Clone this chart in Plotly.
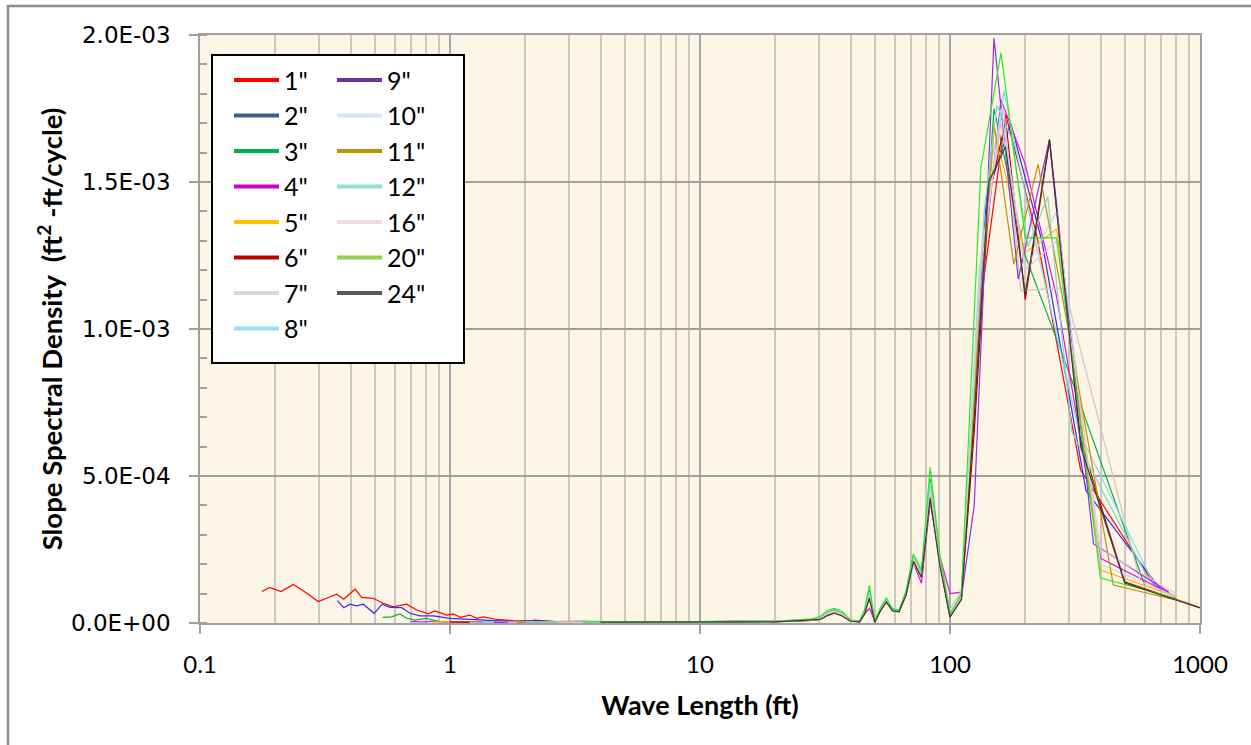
import plotly.graph_objects as go

# Slope spectral density vs. wave length, one line per sample spacing.
# Density values are stored in units of 1e-4 ft^2-ft/cycle.
UNIT = 1e-4

LABELS = ['1"', '2"', '3"', '4"', '5"', '6"', '7"', '8"',
          '9"', '10"', '11"', '12"', '16"', '20"', '24"']

LEGEND_COLORS = ["#FF0000", "#376092", "#00B050", "#CC00CC", "#FFC000",
                 "#C00000", "#D9D9D9", "#93E3F5", "#7030A0", "#DCE6F2",
                 "#BF9000", "#93DFD3", "#F2DCDB", "#92D050", "#595959"]
LINE_COLORS = ["#FF0000", "#3030F0", "#00B050", "#E010E0", "#FFB000",
               "#B00000", "#C8C8C8", "#80DDF0", "#9030E8", "#C5D5EC",
               "#C09000", "#7FD8CC", "#EEC4C4", "#22EE22", "#3C3C3C"]

# short wave lengths (ft), from each spacing's Nyquist limit up to ~3.5 ft
HEAD_WL = {
    '1"': [0.177, 0.19, 0.211, 0.236, 0.259, 0.297, 0.321, 0.352, 0.376, 0.417,
           0.443, 0.493, 0.541, 0.593, 0.671, 0.736, 0.819, 0.871, 0.97, 1.03,
           1.10, 1.2, 1.28, 1.36, 1.54, 1.79, 2.09, 2.19, 2.6, 3.2],
    '2"': [0.354, 0.376, 0.398, 0.423, 0.45, 0.497, 0.536, 0.575, 0.641, 0.692,
           0.759, 0.858, 1.0, 1.17, 1.4, 1.79, 2.2, 2.8, 3.4],
    '3"': [0.538, 0.584, 0.631, 0.671, 0.724, 0.806, 0.912, 1.1, 1.4, 1.8, 2.3, 3.0],
    '4"': [0.70, 0.78, 0.88, 1.0, 1.2, 1.5, 1.9, 2.5, 3.2],
    '5"': [0.85, 1.0, 1.3, 1.7, 2.2, 3.0],
    '6"': [1.0, 1.3, 1.7, 2.3, 3.0],
    '7"': [1.2, 1.5, 2.0, 2.6, 3.3],
    '8"': [1.35, 1.7, 2.2, 2.9],
    '9"': [1.5, 1.9, 2.5, 3.2],
    '10"': [1.7, 2.2, 2.8, 3.4],
    '11"': [1.85, 2.4, 3.1],
    '12"': [2.0, 2.6, 3.3],
    '16"': [2.7, 3.3],
    '20"': [3.4],
    '24"': [],
}
HEAD_S = {
    '1"': [1.07, 1.21, 1.07, 1.31, 1.10, 0.73, 0.84, 0.98, 0.81, 1.15,
           0.87, 0.84, 0.67, 0.55, 0.64, 0.44, 0.31, 0.41, 0.27, 0.31,
           0.19, 0.27, 0.16, 0.21, 0.12, 0.08, 0.07, 0.10, 0.05, 0.06],
    '2"': [0.76, 0.52, 0.64, 0.58, 0.64, 0.33, 0.64, 0.53, 0.52, 0.33,
           0.24, 0.24, 0.16, 0.13, 0.10, 0.05, 0.08, 0.04, 0.06],
    '3"': [0.19, 0.21, 0.31, 0.16, 0.10, 0.16, 0.04, 0.05, 0.03, 0.04, 0.03, 0.04],
    '4"': [0.05, 0.04, 0.06, 0.03, 0.05, 0.03, 0.04, 0.02, 0.04],
    '5"': [0.03, 0.05, 0.02, 0.04, 0.03, 0.02],
    '6"': [0.04, 0.02, 0.05, 0.03, 0.04],
    '7"': [0.02, 0.04, 0.03, 0.02, 0.03],
    '8"': [0.03, 0.02, 0.04, 0.03],
    '9"': [0.02, 0.04, 0.02, 0.03],
    '10"': [0.03, 0.02, 0.03, 0.02],
    '11"': [0.02, 0.03, 0.02],
    '12"': [0.03, 0.02, 0.03],
    '16"': [0.02, 0.03],
    '20"': [0.03],
    '24"': [],
}

# common wave lengths (ft) from 4 ft to 111 ft
BODY_WL = [4, 5, 7, 10, 13, 17, 20, 24, 28, 30.3, 32.3, 34.5, 37.0, 40.0, 43.5,
           45.5, 47.6, 50.0, 52.6, 55.6, 58.8, 62.5, 66.7, 71.4, 76.9, 83.3,
           90.9, 100.0, 111.1]
BODY_S = {
    '1"': [0.04, 0.03, 0.05, 0.03, 0.04, 0.06, 0.05, 0.07, 0.10, 0.15, 0.30, 0.40, 0.30, 0.08, 0.05,
           0.35, 0.95, 0.05, 0.45, 0.75, 0.45, 0.40, 1.00, 2.20, 1.60, 4.50, 2.20, 0.25, 0.90],
    '2"': [0.06, 0.04, 0.03, 0.05, 0.04, 0.05, 0.06, 0.08, 0.09, 0.14, 0.28, 0.38, 0.27, 0.07, 0.05,
           0.33, 0.88, 0.04, 0.43, 0.74, 0.44, 0.39, 0.98, 2.15, 1.58, 4.35, 2.10, 0.22, 0.88],
    '3"': [0.05, 0.03, 0.04, 0.04, 0.05, 0.05, 0.07, 0.09, 0.11, 0.18, 0.35, 0.45, 0.33, 0.09, 0.05,
           0.40, 1.10, 0.05, 0.48, 0.80, 0.47, 0.41, 1.05, 2.30, 1.70, 4.90, 2.25, 0.28, 0.95],
    '4"': [0.05, 0.04, 0.05, 0.04, 0.06, 0.05, 0.07, 0.08, 0.11, 0.14, 0.28, 0.36, 0.27, 0.09, 0.06,
           0.30, 0.50, 0.08, 0.42, 0.70, 0.48, 0.40, 0.95, 2.05, 1.35, 4.10, 2.30, 1.00, 1.05],
    '5"': [0.04, 0.05, 0.03, 0.04, 0.04, 0.06, 0.05, 0.08, 0.10, 0.16, 0.31, 0.40, 0.29, 0.08, 0.05,
           0.36, 0.92, 0.05, 0.46, 0.77, 0.46, 0.40, 1.02, 2.25, 1.62, 4.55, 2.15, 0.30, 0.92],
    '6"': [0.03, 0.04, 0.04, 0.03, 0.05, 0.05, 0.06, 0.07, 0.09, 0.13, 0.27, 0.35, 0.26, 0.07, 0.04,
           0.32, 0.88, 0.03, 0.41, 0.73, 0.43, 0.38, 0.97, 2.12, 1.57, 4.30, 2.05, 0.22, 0.85],
    '7"': [0.04, 0.03, 0.05, 0.04, 0.04, 0.06, 0.05, 0.08, 0.10, 0.15, 0.29, 0.37, 0.28, 0.10, 0.06,
           0.34, 0.80, 0.07, 0.44, 0.72, 0.47, 0.42, 0.96, 2.00, 1.65, 4.20, 2.30, 0.45, 1.10],
    '8"': [0.05, 0.04, 0.04, 0.05, 0.04, 0.07, 0.06, 0.08, 0.11, 0.17, 0.33, 0.42, 0.31, 0.08, 0.05,
           0.38, 1.02, 0.05, 0.47, 0.79, 0.46, 0.41, 1.04, 2.28, 1.66, 4.75, 2.20, 0.27, 0.93],
    '9"': [0.04, 0.03, 0.04, 0.05, 0.03, 0.06, 0.05, 0.07, 0.10, 0.15, 0.30, 0.39, 0.29, 0.08, 0.05,
           0.34, 0.90, 0.04, 0.44, 0.75, 0.45, 0.40, 0.99, 2.18, 1.59, 4.45, 2.12, 0.24, 0.88],
    '10"': [0.05, 0.04, 0.05, 0.04, 0.05, 0.05, 0.06, 0.09, 0.10, 0.16, 0.32, 0.41, 0.30, 0.09, 0.06,
            0.37, 0.96, 0.06, 0.46, 0.76, 0.46, 0.41, 1.01, 2.22, 1.63, 4.60, 2.18, 0.32, 0.94],
    '11"': [0.04, 0.04, 0.03, 0.05, 0.04, 0.06, 0.05, 0.08, 0.09, 0.14, 0.29, 0.37, 0.28, 0.07, 0.05,
            0.33, 0.86, 0.04, 0.42, 0.74, 0.44, 0.39, 0.97, 2.14, 1.56, 4.35, 2.08, 0.26, 0.87],
    '12"': [0.05, 0.04, 0.05, 0.04, 0.05, 0.06, 0.07, 0.08, 0.11, 0.17, 0.34, 0.43, 0.32, 0.09, 0.05,
            0.39, 1.05, 0.05, 0.47, 0.79, 0.47, 0.41, 1.03, 2.27, 1.68, 4.80, 2.22, 0.29, 0.95],
    '16"': [0.04, 0.03, 0.04, 0.04, 0.05, 0.05, 0.06, 0.08, 0.10, 0.15, 0.31, 0.39, 0.29, 0.08, 0.06,
            0.35, 0.93, 0.05, 0.45, 0.76, 0.45, 0.40, 1.00, 2.20, 1.61, 4.50, 2.15, 0.28, 0.90],
    '20"': [0.05, 0.04, 0.05, 0.06, 0.05, 0.08, 0.06, 0.10, 0.14, 0.22, 0.42, 0.50, 0.40, 0.10, 0.06,
            0.45, 1.28, 0.06, 0.50, 0.85, 0.50, 0.42, 1.10, 2.35, 1.80, 5.30, 2.40, 0.30, 1.00],
    '24"': [0.03, 0.03, 0.03, 0.04, 0.03, 0.05, 0.04, 0.07, 0.09, 0.12, 0.25, 0.33, 0.24, 0.06, 0.04,
            0.30, 0.85, 0.02, 0.40, 0.72, 0.42, 0.38, 0.95, 2.10, 1.55, 4.25, 2.00, 0.20, 0.80],
}

# long wave lengths (ft): the main peak and the decay out to the record length
TAIL_WL = {
    '1"': [133, 167, 222, 333, 667],
    '2"': [140, 175, 233, 350, 700],
    '3"': [120, 150, 200, 300, 600],
    '4"': [133, 160, 200, 267, 400, 800],
    '5"': [125, 150, 200, 267, 400, 800],
    '6"': [125, 143, 167, 200, 250, 333, 500, 1000],
    '7"': [128, 144, 164, 192, 230, 287, 575],
    '8"': [131, 164, 219, 328, 656],
    '9"': [125, 150, 187.5, 250, 375, 750],
    '10"': [133, 160, 200, 267, 400, 800],
    '11"': [129, 150, 180, 225, 300, 450, 900],
    '12"': [123, 137, 154, 176, 205, 246, 307, 615],
    '16"': [133, 160, 200, 267, 400, 800],
    '20"': [133, 160, 200, 267, 400, 800],
    '24"': [125, 142.9, 166.7, 200, 250, 333.3, 500, 1000],
}
TAIL_S = {
    '1"': [11.0, 17.3, 13.2, 5.2, 1.2],
    '2"': [14.5, 17.0, 13.0, 4.5, 1.1],
    '3"': [5.5, 17.5, 12.5, 8.5, 1.3],
    '4"': [11.5, 17.8, 15.6, 11.1, 2.2, 0.9],
    '5"': [7.0, 16.8, 12.6, 13.4, 1.8, 0.9],
    '6"': [6.5, 14.5, 17.1, 11.0, 16.4, 6.2, 1.4, 0.52],
    '7"': [9.0, 15.5, 17.5, 11.3, 11.35, 11.4, 1.46],
    '8"': [12.0, 18.1, 13.0, 6.5, 1.3],
    '9"': [4.0, 19.9, 11.7, 16.45, 2.69, 1.05],
    '10"': [12.0, 17.5, 12.0, 14.0, 2.0, 0.9],
    '11"': [9.5, 17.0, 12.2, 15.6, 9.8, 1.29, 0.68],
    '12"': [7.5, 14.0, 17.6, 16.5, 12.8, 14.5, 6.5, 1.56],
    '16"': [12.5, 17.0, 12.0, 13.0, 2.5, 1.0],
    '20"': [15.5, 19.4, 13.1, 13.1, 1.53, 0.85],
    '24"': [7.0, 15.0, 16.2, 11.2, 16.45, 6.0, 1.36, 0.51],
}

X_TICKS = [0.1, 1, 10, 100, 1000]
X_TICK_TEXT = ["0.1", "1", "10", "100", "1000"]
Y_TICKS = [0, 5e-4, 1e-3, 1.5e-3, 2e-3]
Y_TICK_TEXT = ["0.0E+00", "5.0E-04", "1.0E-03", "1.5E-03", "2.0E-03"]
X_MINOR = [m * 10.0 ** e for e in range(-1, 3) for m in range(2, 10)]

fig = go.Figure()

for i, lab in enumerate(LABELS):
    wl = HEAD_WL[lab] + BODY_WL + TAIL_WL[lab]
    s = HEAD_S[lab] + BODY_S[lab] + TAIL_S[lab]
    fig.add_trace(go.Scatter(
        x=wl, y=[v * UNIT for v in s], mode="lines", name=lab,
        line=dict(color=LINE_COLORS[i], width=1.2),
        showlegend=False,
    ))

# legend entries, split into two columns
for i, lab in enumerate(LABELS):
    fig.add_trace(go.Scatter(
        x=[None], y=[None], mode="lines", name=lab,
        line=dict(color=LEGEND_COLORS[i], width=4),
        legend="legend" if i < 8 else "legend2",
    ))

AXIS_GREY = "#A0A0A0"
TXT = "#000000"
LEGEND_FONT = dict(family="Lato", size=25, color=TXT)

fig.update_layout(
    width=1251, height=745,
    margin=dict(l=200, r=51, t=35, b=122),
    paper_bgcolor="white",
    plot_bgcolor="#FDF5E6",
    font=dict(family="Lato", color=TXT),
    xaxis=dict(
        type="log", range=[-1, 3],
        tickmode="array", tickvals=X_TICKS, ticktext=X_TICK_TEXT,
        ticks="outside", ticklen=9, tickcolor=AXIS_GREY, tickwidth=1.5,
        tickfont=dict(family="Lato", size=24, color=TXT),
        ticklabelstandoff=10,
        showline=True, linecolor=AXIS_GREY, linewidth=1.5, mirror=True,
        showgrid=True, gridcolor="#A6A6A6", gridwidth=1.5,
        minor=dict(tickmode="array", tickvals=X_MINOR, ticks="",
                   showgrid=True, gridcolor="#CEC7BD", gridwidth=1.5),
        zeroline=False,
        title=dict(text="<b>Wave Length (ft)</b>", standoff=20,
                   font=dict(family="Lato", size=27, color=TXT)),
    ),
    yaxis=dict(
        range=[0, 0.002],
        tickmode="array", tickvals=Y_TICKS, ticktext=Y_TICK_TEXT,
        ticks="outside", ticklen=9, tickcolor=AXIS_GREY, tickwidth=1.5,
        tickfont=dict(family="DejaVu Sans", size=23, color=TXT),
        ticklabelstandoff=14,
        showline=True, linecolor=AXIS_GREY, linewidth=1.5, mirror=True,
        showgrid=True, gridcolor="#A0A0A0", gridwidth=2,
        minor=dict(dtick=1e-4, ticks="inside", ticklen=7,
                   tickcolor=AXIS_GREY, tickwidth=1.5, showgrid=False),
        zeroline=False,
        title=dict(text="<b>Slope Spectral Density&nbsp; (ft<sup>2</sup> -ft/cycle)</b>",
                   standoff=0,
                   font=dict(family="Lato", size=27.5, color=TXT)),
    ),
    legend=dict(x=0.029, y=0.962, xanchor="left", yanchor="top",
                bgcolor="rgba(0,0,0,0)", borderwidth=0, itemwidth=45,
                font=LEGEND_FONT, tracegroupgap=0),
    legend2=dict(x=0.132, y=0.962, xanchor="left", yanchor="top",
                 bgcolor="rgba(0,0,0,0)", borderwidth=0, itemwidth=45,
                 font=LEGEND_FONT, tracegroupgap=0),
    shapes=[
        # legend frame
        dict(type="rect", xref="paper", yref="paper",
             x0=0.012, x1=0.264, y0=0.4422, y1=0.966,
             fillcolor="white", line=dict(color="black", width=2),
             layer="above"),
        # chart frame
        dict(type="rect", xref="paper", yref="paper",
             x0=-0.192, x1=1.06, y0=-0.215, y1=1.0493,
             fillcolor="rgba(0,0,0,0)", line=dict(color="#8C8C8C", width=2.5),
             layer="above"),
    ],
)

fig.write_html("out.html")
